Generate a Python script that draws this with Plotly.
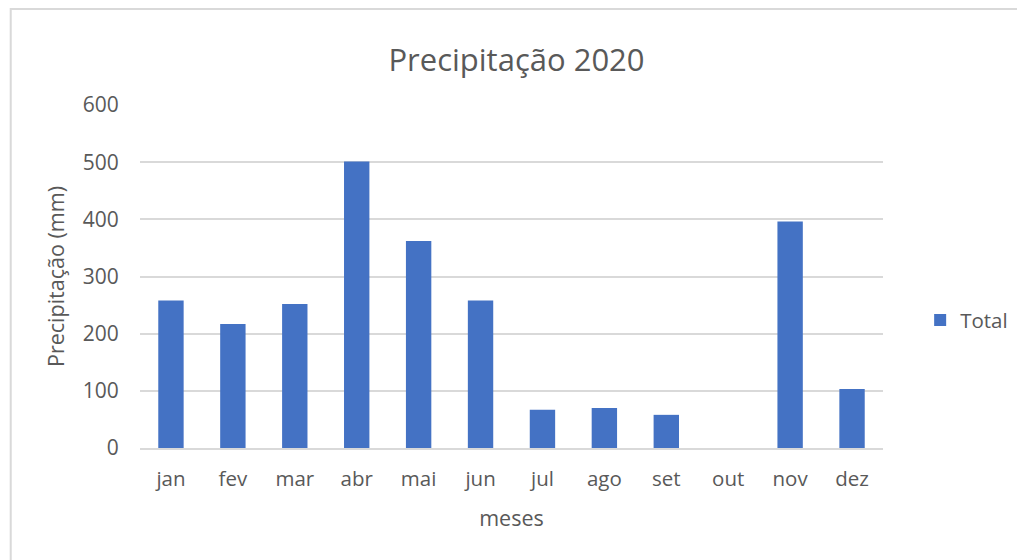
import plotly.graph_objects as go

# monthly rainfall totals
meses = ["jan", "fev", "mar", "abr", "mai", "jun", "jul", "ago", "set", "out", "nov", "dez"]
total = [258, 217, 252, 501, 362, 258, 67, 70, 58, 0, 396, 103]
y_ticks = [0, 100, 200, 300, 400, 500, 600]

FONT = "Open Sans"
GREY = "#595959"

fig = go.Figure(go.Bar(
    x=meses,
    y=total,
    name="Total",
    marker=dict(color="#4472C4", line=dict(width=0)),
    showlegend=True,
))

# the page body adds an 8px offset, so the figure is a bit smaller than the window
fig.update_layout(
    width=1017,
    height=552,
    margin=dict(l=132, r=132, t=97, b=112),
    paper_bgcolor="white",
    plot_bgcolor="white",
    font=dict(family=FONT, color=GREY, size=20),
    bargap=0.59,
    title=dict(
        text="Precipitação 2020",
        x=0.5, xanchor="center",
        y=0.905, yanchor="middle",
        font=dict(size=31, color=GREY, family=FONT),
    ),
    xaxis=dict(
        title=dict(text="meses", font=dict(size=21.5), standoff=20),
        showgrid=False,
        showline=True,
        linecolor="#d9d9d9",
        linewidth=1.5,
        ticks="outside",
        ticklen=12,
        tickcolor="white",
        tickfont=dict(size=20.5),
    ),
    yaxis=dict(
        title=dict(text="Precipitação (mm)", font=dict(size=21.5), standoff=12),
        range=[0, 600],
        tickvals=y_ticks,
        gridcolor="#d9d9d9",
        gridwidth=1.5,
        zeroline=False,
        showline=False,
        ticks="outside",
        ticklen=16,
        tickcolor="white",
        tickfont=dict(size=21),
    ),
    legend=dict(
        x=1.05, xanchor="left",
        y=0.373, yanchor="middle",
        font=dict(size=20.5),
        itemwidth=30,
    ),
    # light frame round the whole chart, open on the right and bottom
    shapes=[dict(
        type="rect", xref="paper", yref="paper",
        x0=-0.174, x1=1.2, y0=-0.4, y1=1.28,
        line=dict(color="#d9d9d9", width=2),
        fillcolor="rgba(0,0,0,0)",
        layer="below",
    )],
)

fig.write_html("out.html")
